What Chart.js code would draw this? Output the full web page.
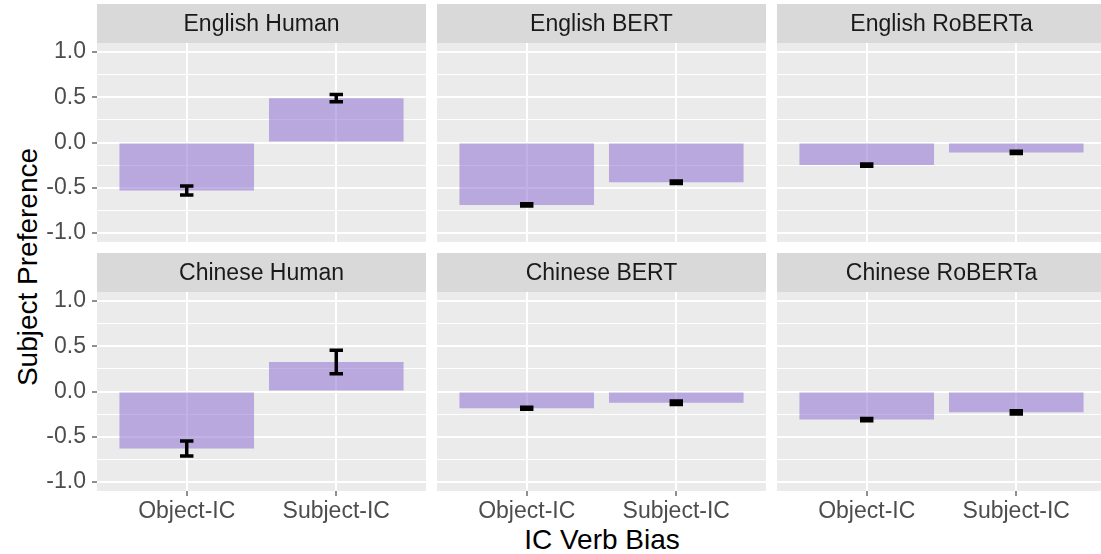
<!DOCTYPE html>
<html>
<head>
<meta charset="utf-8">
<script src="https://cdn.jsdelivr.net/npm/chart.js@4.4.1/dist/chart.umd.min.js"></script>
<style>
  html, body { margin: 0; padding: 0; background: #fff; }
  body {
    width: 1101px;
    height: 554px;
    position: relative;
    overflow: hidden;
    font-family: "Liberation Sans", Arial, sans-serif;
  }
  canvas { position: absolute; }
  .axis-title {
    position: absolute;
    font-size: 28px;
    color: #000;
    white-space: nowrap;
  }
  #yTitle { left: 28px; top: 267px; transform: translate(-50%, -50%) rotate(-90deg); }
  #xTitle { left: 602px; top: 540px; transform: translate(-50%, -50%); }
</style>
</head>
<body>
<div class="axis-title" id="yTitle">Subject Preference</div>
<div class="axis-title" id="xTitle">IC Verb Bias</div>
<script>
// facets, in reading order
const panelNames = [
  "English Human", "English BERT", "English RoBERTa",
  "Chinese Human", "Chinese BERT", "Chinese RoBERTa",
];
const categories = ["Object-IC", "Subject-IC"];

// mean subject preference per facet (Object-IC, Subject-IC)
const englishHumanMean = [-0.53, 0.49];
const englishBertMean = [-0.69, -0.44];
const englishRobertaMean = [-0.25, -0.11];
const chineseHumanMean = [-0.63, 0.325];
const chineseBertMean = [-0.185, -0.125];
const chineseRobertaMean = [-0.31, -0.23];

// half-width of the error bars
const englishHumanErr = [0.05, 0.04];
const englishBertErr = [0.012, 0.013];
const englishRobertaErr = [0.013, 0.012];
const chineseHumanErr = [0.083, 0.13];
const chineseBertErr = [0.012, 0.02];
const chineseRobertaErr = [0.012, 0.018];

const yTickValues = [-1, -0.75, -0.5, -0.25, 0, 0.25, 0.5, 0.75, 1];
const yLabelValues = [-1, -0.5, 0, 0.5, 1];

const panelMeans = [
  englishHumanMean, englishBertMean, englishRobertaMean,
  chineseHumanMean, chineseBertMean, chineseRobertaMean,
];
const panelErrs = [
  englishHumanErr, englishBertErr, englishRobertaErr,
  chineseHumanErr, chineseBertErr, chineseRobertaErr,
];

// layout of the facet grid
const colLeft = [97, 437, 777];
const rowTop = [4, 253];
const panelW = 329;
const stripH = 39;
const panelH = 199;
const yAxisW = 97;
const xAxisH = 50;
const capWidth = 0.09;

const fontFamily = '"Liberation Sans", Arial, sans-serif';
const isMajor = (v) => yLabelValues.some((t) => Math.abs(t - v) < 1e-9);

const panelBackdrop = {
  id: "panelBackdrop",
  beforeDraw(chart, args, opts) {
    const { ctx, chartArea: a } = chart;
    ctx.save();
    ctx.fillStyle = "#ebebeb";
    ctx.fillRect(a.left, a.top, a.width, a.height);
    ctx.fillStyle = "#d9d9d9";
    ctx.fillRect(a.left, a.top - stripH, a.width, stripH);
    ctx.fillStyle = "#1a1a1a";
    ctx.font = "23px " + fontFamily;
    ctx.textAlign = "center";
    ctx.textBaseline = "middle";
    ctx.fillText(opts.title, a.left + a.width / 2, a.top - stripH / 2 + 1);
    ctx.restore();
  },
};

const errorBars = {
  id: "errorBars",
  afterDatasetsDraw(chart) {
    const { ctx } = chart;
    const { x, y } = chart.scales;
    const ds = chart.data.datasets[0];
    ctx.save();
    ctx.strokeStyle = "#000";
    ctx.lineWidth = 3.5;
    ds.data.forEach((pt, i) => {
      const err = ds.errors[i];
      const px = x.getPixelForValue(pt.x);
      const half = x.getPixelForValue(pt.x + capWidth / 2) - px;
      const top = y.getPixelForValue(pt.y + err);
      const bot = y.getPixelForValue(pt.y - err);
      ctx.beginPath();
      ctx.moveTo(px, top);
      ctx.lineTo(px, bot);
      ctx.moveTo(px - half, top);
      ctx.lineTo(px + half, top);
      ctx.moveTo(px - half, bot);
      ctx.lineTo(px + half, bot);
      ctx.stroke();
    });
    ctx.restore();
  },
};

function makePanel(idx) {
  const row = Math.floor(idx / 3);
  const col = idx % 3;
  const showY = col === 0;
  const showX = row === 1;

  const width = panelW + (showY ? yAxisW : 0);
  const height = stripH + panelH + (showX ? xAxisH : 0);
  const canvas = document.createElement("canvas");
  canvas.width = width;
  canvas.height = height;
  canvas.style.width = width + "px";
  canvas.style.height = height + "px";
  canvas.style.left = (showY ? colLeft[col] - yAxisW : colLeft[col]) + "px";
  canvas.style.top = rowTop[row] + "px";
  document.body.appendChild(canvas);

  const means = panelMeans[idx];

  new Chart(canvas, {
    type: "bar",
    data: {
      datasets: [
        {
          data: means.map((m, i) => ({ x: i + 1, y: m })),
          errors: panelErrs[idx],
          backgroundColor: "rgba(144, 113, 210, 0.55)",
          borderWidth: 0,
          barPercentage: 0.9,
          categoryPercentage: 1,
        },
      ],
    },
    options: {
      responsive: false,
      animation: false,
      layout: { padding: { top: stripH, left: 0, right: 0, bottom: 0 } },
      plugins: {
        legend: { display: false },
        tooltip: { enabled: false },
        panelBackdrop: { title: panelNames[idx] },
      },
      scales: {
        x: {
          type: "linear",
          min: 0.4,
          max: 2.6,
          offset: false,
          afterBuildTicks: (s) => {
            s.ticks = categories.map((_, i) => ({ value: i + 1 }));
          },
          afterFit: (s) => {
            s.height = showX ? xAxisH : 0;
            s.paddingLeft = 0;
            s.paddingRight = 0;
          },
          border: { display: false },
          grid: {
            offset: false,
            color: "#ffffff",
            lineWidth: 2,
            drawTicks: showX,
            tickLength: 5,
            tickColor: "#333333",
            tickWidth: 1.1,
          },
          ticks: {
            display: showX,
            autoSkip: false,
            maxRotation: 0,
            padding: 2,
            color: "#4d4d4d",
            font: { size: 23, family: fontFamily },
            callback: (v) => categories[Math.round(v) - 1] ?? "",
          },
        },
        y: {
          min: -1.1,
          max: 1.1,
          afterBuildTicks: (s) => {
            s.ticks = yTickValues.map((v) => ({ value: v }));
          },
          afterFit: (s) => {
            s.width = showY ? yAxisW : 0;
            s.paddingTop = 0;
            s.paddingBottom = 0;
          },
          border: { display: false },
          grid: {
            color: "#ffffff",
            lineWidth: (ctx) => (isMajor(ctx.tick.value) ? 2 : 1),
            drawTicks: showY,
            tickLength: 5,
            tickColor: (ctx) => (isMajor(ctx.tick.value) ? "#333333" : "rgba(0,0,0,0)"),
            tickWidth: 1.1,
          },
          ticks: {
            display: showY,
            autoSkip: false,
            padding: 6,
            color: "#4d4d4d",
            font: { size: 23, family: fontFamily },
            callback: (v) => (isMajor(v) ? v.toFixed(1) : ""),
          },
        },
      },
    },
    plugins: [panelBackdrop, errorBars],
  });
}

panelNames.forEach((_, i) => makePanel(i));
</script>
</body>
</html>
